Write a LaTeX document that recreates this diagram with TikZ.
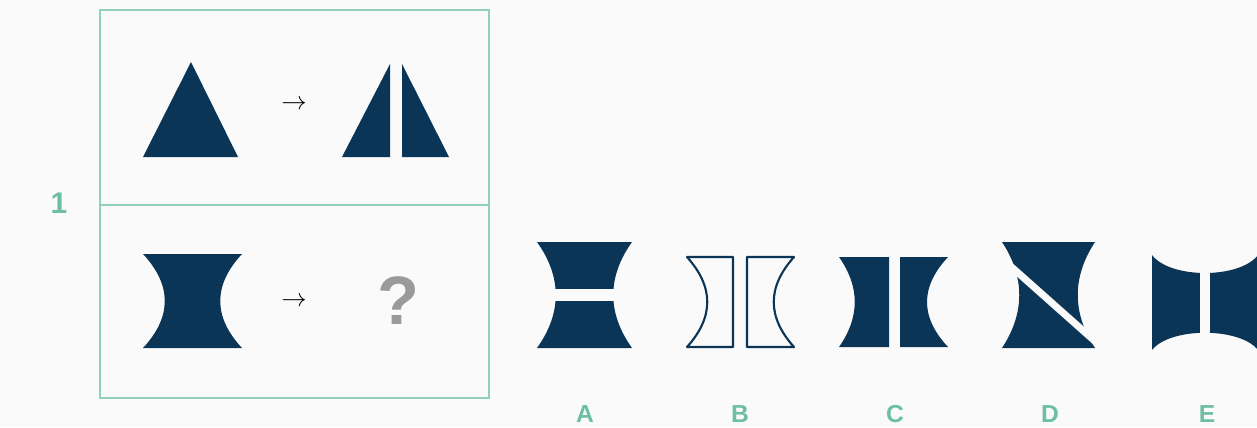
\documentclass[tikz,border=0pt]{standalone}
\usepackage{fontspec}
\setmainfont{Liberation Sans}
\usetikzlibrary{positioning}
\definecolor{QuizNavy}{HTML}{0B3556}
\definecolor{QuizTeal}{HTML}{6CBF9F}
\definecolor{QuizFrame}{HTML}{8FD1BC}
\definecolor{QuizGray}{HTML}{9A9A9A}
\definecolor{QuizPaper}{HTML}{FAFAFA}

\begin{document}
\begin{tikzpicture}[x=0.02cm,y=-0.02cm,
  navyfill/.style={fill=QuizNavy,draw=none},
  navyline/.style={draw=QuizNavy,line width=1.2pt,fill=none,line join=round},
  panel/.style={draw=QuizFrame,line width=0.9pt},
  cut/.style={fill=QuizPaper,draw=none},
  letter/.style={text=QuizTeal,font=\bfseries\fontsize{14}{14}\selectfont,inner sep=0pt},
  maparrow/.style={inner sep=0pt,font=\fontsize{15}{15}\selectfont},
]
\fill[QuizPaper] (0,0) rectangle (1257,427);
\useasboundingbox (0,0) rectangle (1257,427);

% question panel
\draw[panel] (100,10) rectangle (489,398);
\draw[panel] (100,205) -- (489,205);
\node[text=QuizTeal,font=\bfseries\fontsize{17}{17}\selectfont,inner sep=0pt] (num) at (59,203) {1};

% example row
\fill[navyfill] (143,157) -- (191,62) -- (238,157) -- cycle;
\node[maparrow] (arrTop) at (294,105) {$\rightarrow$};
\fill[navyfill] (342,157) -- (390,64) -- (390,157) -- cycle;
\fill[navyfill] (402,64) -- (449,157) -- (402,157) -- cycle;

% task row
\fill[navyfill] (143,254) -- (242,254) .. controls (213,285) and (213,317) .. (242,348)
  -- (143,348) .. controls (172,317) and (172,285) .. (143,254) -- cycle;
\node[maparrow] (arrBot) at (294,302) {$\rightarrow$};
\node[text=QuizGray,font=\bfseries\fontsize{39}{39}\selectfont,inner sep=0pt] (query) at (398,301) {?};

% option A
\fill[navyfill] (537,242) -- (632,242) .. controls (607,277) and (607,313) .. (632,348)
  -- (537,348) .. controls (562,313) and (562,277) .. (537,242) -- cycle;
\fill[cut] (530,289) rectangle (640,301);

% option B
\draw[navyline] (687,257) -- (733,257) -- (733,347) -- (687,347)
  .. controls (714,317) and (714,287) .. (687,257) -- cycle;
\draw[navyline] (747,257) -- (794,257) .. controls (767,287) and (767,317) .. (794,347)
  -- (747,347) -- cycle;

% option C
\fill[navyfill] (839,257) -- (889,257) -- (889,347) -- (839,347)
  .. controls (860,317) and (860,287) .. (839,257) -- cycle;
\fill[navyfill] (900,257) -- (948,257) .. controls (920,287) and (920,317) .. (948,347)
  -- (900,347) -- cycle;

% option D
\fill[navyfill] (1002,242) -- (1095,242) .. controls (1072,277) and (1072,313) .. (1095,348)
  -- (1002,348) .. controls (1025,313) and (1025,277) .. (1002,242) -- cycle;
\draw[QuizPaper,line width=4pt] (998,255) -- (1097,343);

% option E
\begin{scope}
\clip (0,0) rectangle (1257,427);
\fill[navyfill] (1152,255) .. controls (1170,279) and (1240,279) .. (1258,255)
  -- (1258,350) .. controls (1240,327) and (1170,327) .. (1152,350) -- cycle;
\fill[cut] (1200,265) rectangle (1210,340);
\end{scope}

% answer letters
\foreach \l/\x in {A/585,B/740,C/895,D/1050,E/1207}
  \node[letter] (lab\l) at (\x,414) {\l};
\end{tikzpicture}
\end{document}
